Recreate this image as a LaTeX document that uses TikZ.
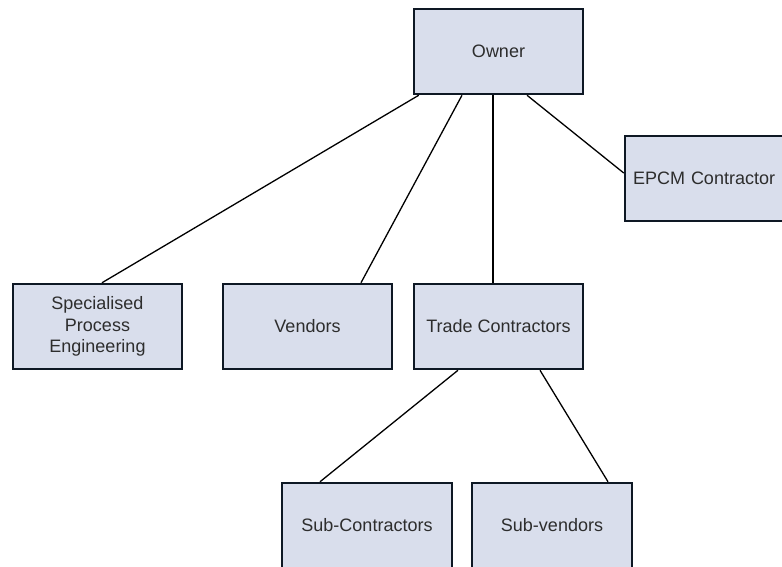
\documentclass[tikz,border=0pt]{standalone}
\usepackage{fontspec}
\setmainfont{Liberation Sans}
\definecolor{boxfill}{RGB}{217,222,236}
\definecolor{boxline}{RGB}{14,24,36}
\definecolor{txt}{RGB}{45,45,45}
\begin{document}
\begin{tikzpicture}[x=1pt,y=-1pt,
  orgbox/.style={draw=boxline, fill=boxfill, line width=2.5pt, rectangle,
    minimum width=169pt, minimum height=85pt, inner sep=0pt,
    text=txt, align=center, font=\fontsize{18}{21.5}\selectfont},
  link/.style={draw=black, line width=1.3pt}]
\useasboundingbox (0,0) rectangle (782,566);
\clip (0,0) rectangle (782,566);
\node[orgbox] (own) at (498.5,51.5) {Owner};
\node[orgbox, text width=154pt, align=left, inner xsep=8pt] (epcm) at (710,178.5) {EPCM Contractor};
\node[orgbox] (spe) at (97.5,326.5) {Specialised\\Process\\Engineering};
\node[orgbox] (ven) at (307.5,326.5) {Vendors};
\node[orgbox] (trd) at (498.5,326.5) {Trade Contractors};
\node[orgbox, minimum width=170pt] (subc) at (367,525.5) {Sub-Contractors};
\node[orgbox, minimum width=160pt] (subv) at (552,525.5) {Sub-vendors};
\draw[link] ([xshift=6pt]own.south west) -- ([xshift=4.5pt]spe.north);
\draw[link] ([xshift=-36.5pt]own.south) -- ([xshift=53.5pt]ven.north);
\draw[link] ([xshift=-5.5pt]own.south) -- ([xshift=-5.5pt]trd.north);
\draw[link] ([xshift=28.5pt]own.south) -- ([yshift=5.5pt]epcm.west);
\draw[link] ([xshift=-40.5pt]trd.south) -- ([xshift=-47pt]subc.north);
\draw[link] ([xshift=41.5pt]trd.south) -- ([xshift=56pt]subv.north);
\end{tikzpicture}
\end{document}
